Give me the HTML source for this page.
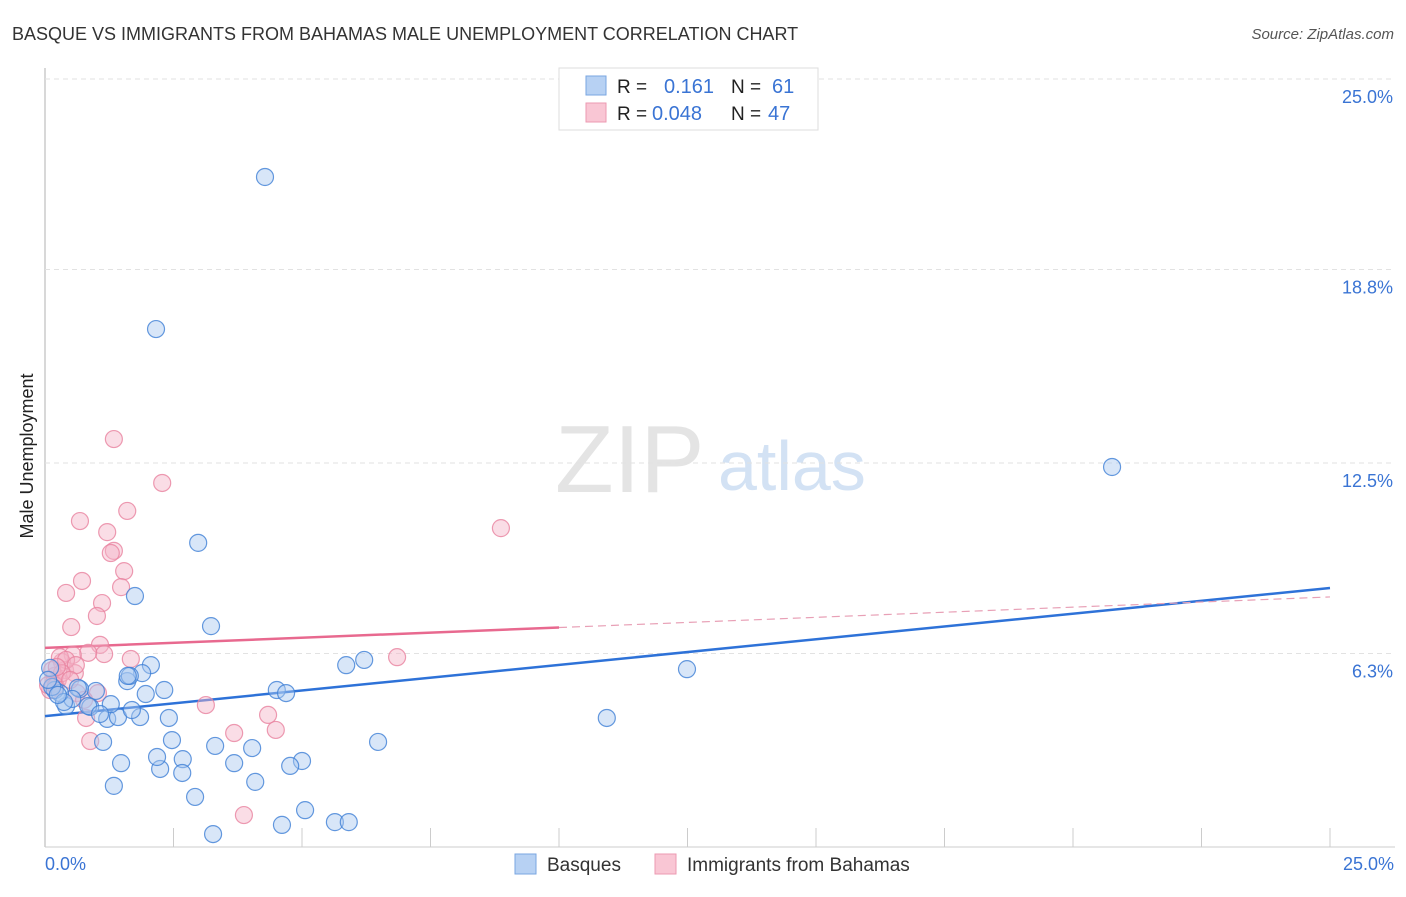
<!DOCTYPE html>
<html><head><meta charset="utf-8"><style>
body{margin:0;background:#fff;font-family:"Liberation Sans",sans-serif;}
svg text{font-family:"Liberation Sans",sans-serif;}
</style></head><body>
<svg id="chart" width="1406" height="892">
<text x="12" y="40" font-size="18" fill="#333">BASQUE VS IMMIGRANTS FROM BAHAMAS MALE UNEMPLOYMENT CORRELATION CHART</text>
<text x="1394" y="39" font-size="15" fill="#555" font-style="italic" text-anchor="end">Source: ZipAtlas.com</text>
<text x="0" y="0" font-size="18" fill="#222" text-anchor="middle" transform="translate(33,456) rotate(-90)">Male Unemployment</text>
<g>
<text x="555" y="492" font-size="96" fill="#e4e4e4" font-family="Liberation Serif, serif">ZIP</text>
<text x="718" y="490" font-size="70" fill="#d3e2f4">atlas</text>
</g>
<g id="grid"></g>
<g id="lines"></g>
<g id="pts"></g>
<g>
<rect x="559" y="68" width="259" height="62" fill="#fff" stroke="#ddd"/>
<rect x="586" y="76" width="20" height="19" fill="#b7d1f3" stroke="#7aa6e0"/>
<rect x="586" y="103" width="20" height="19" fill="#f9c6d4" stroke="#ec9ab2"/>
<text x="617" y="93" font-size="19" fill="#222">R =</text><text x="664" y="93" font-size="20" fill="#3a74d4">0.161</text>
<text x="731" y="93" font-size="19" fill="#222">N =</text><text x="772" y="93" font-size="20" fill="#3a74d4">61</text>
<text x="617" y="120" font-size="19" fill="#222">R =</text><text x="652" y="120" font-size="20" fill="#3a74d4">0.048</text>
<text x="731" y="120" font-size="19" fill="#222">N =</text><text x="768" y="120" font-size="20" fill="#3a74d4">47</text>
</g>
<g>
<rect x="515" y="854" width="21" height="20" fill="#b7d1f3" stroke="#7aa6e0"/>
<text x="547" y="871" font-size="19" fill="#333">Basques</text>
<rect x="655" y="854" width="21" height="20" fill="#f9c6d4" stroke="#ec9ab2"/>
<text x="687" y="871" font-size="19" fill="#333">Immigrants from Bahamas</text>
</g>
</svg>
<script>
const yTicks=[25.0,18.8,12.5,6.3];
const yTickLabels=["25.0%","18.8%","12.5%","6.3%"];
const xTickLabels=["0.0%","25.0%"];
const basqueX=[4.28,2.16,2.98,3.23,1.75,20.76,12.49,10.93,5.86,6.21,6.48,4.51,4.69,5.00,4.77,5.06,5.64,5.91,4.61,3.27,2.92,4.09,4.03,3.68,3.31,2.68,2.67,2.47,2.24,2.18,1.48,1.34,1.13,1.21,1.42,1.85,1.69,2.41,2.32,1.96,2.06,1.89,1.60,1.65,1.28,0.99,0.68,0.88,0.64,0.41,0.53,0.29,0.19,0.14,0.10,0.37,0.84,1.07,0.06,0.25,1.61];
const basqueY=[21.81,16.86,9.90,7.19,8.17,12.37,5.79,4.20,5.92,6.09,3.42,5.11,5.01,2.80,2.64,1.20,0.81,0.81,0.72,0.42,1.63,2.12,3.22,2.73,3.29,2.86,2.41,3.48,2.54,2.93,2.73,1.99,3.42,4.17,4.23,4.23,4.46,4.20,5.11,4.98,5.92,5.66,5.40,5.57,4.65,5.08,5.14,4.56,5.18,4.59,4.82,5.01,5.11,5.21,5.83,4.72,4.59,4.33,5.44,4.95,5.57];
const bahamasX=[1.34,2.28,0.68,1.60,1.21,1.34,1.28,1.54,0.72,0.41,1.48,1.11,1.01,0.51,1.07,1.67,1.15,0.84,8.87,6.85,3.13,4.34,4.49,3.68,3.87,0.88,0.80,0.54,0.33,0.39,0.58,0.25,0.19,0.10,0.16,0.62,1.03,0.29,0.14,0.06,0.41,0.60,0.21,0.76,0.33,0.23,0.49];
const bahamasY=[13.28,11.85,10.61,10.94,10.25,9.64,9.57,8.98,8.66,8.27,8.46,7.94,7.52,7.16,6.58,6.12,6.28,6.32,10.38,6.18,4.62,4.30,3.81,3.71,1.04,3.45,4.20,6.25,6.02,5.76,5.66,5.44,5.57,5.11,5.31,5.01,5.01,6.18,5.76,5.27,6.09,5.92,5.24,4.79,5.66,5.86,5.44];
const basqueTrend=[4.26,8.43];
const bahamasTrend=[6.48,8.14];
const bahamasSolidEnd=10.0;
const NS="http://www.w3.org/2000/svg";
const X0=45,X1=1330,Y0=847,Y25=79;
function sx(v){return X0+(X1-X0)*v/25;}
function sy(v){return Y0-(Y0-Y25)*v/25;}
function mk(t,a,p){const e=document.createElementNS(NS,t);for(const k in a)e.setAttribute(k,a[k]);p.appendChild(e);return e;}
const grid=document.getElementById('grid');
const ax=mk('line',{x1:X0,y1:68,x2:X0,y2:Y0,stroke:'#ccc','stroke-width':1.5},grid);


const bx=mk('line',{x1:X0,y1:Y0,x2:1395,y2:Y0,stroke:'#ccc','stroke-width':1},grid);


yTicks.forEach((v,i)=>{
 const g=mk('line',{x1:X0,y1:sy(v),x2:1395,y2:sy(v),stroke:'#e2e2e2','stroke-dasharray':'5,4'},grid);
 
 
 const t=mk('text',{x:1393,y:sy(v)+24,'font-size':18,fill:'#3a74d4','text-anchor':'end'},grid);
 t.textContent=yTickLabels[i];
 
 
});
for(let i=1;i<=10;i++){
 const v=2.5*i;
 const l=mk('line',{x1:sx(v),y1:828,x2:sx(v),y2:Y0,stroke:'#ccc'},grid);
 
 
}
const xl0=mk('text',{x:45,y:870,'font-size':18,fill:'#3a74d4'},grid);xl0.textContent=xTickLabels[0];


const xl1=mk('text',{x:1394,y:870,'font-size':18,fill:'#3a74d4','text-anchor':'end'},grid);xl1.textContent=xTickLabels[1];


const pts=document.getElementById('pts');
function dots(xs,ys,fill,stroke,name){xs.forEach((x,i)=>{
 const c=mk('circle',{cx:sx(x),cy:sy(ys[i]),r:8.5,fill:fill,'fill-opacity':0.45,stroke:stroke,'stroke-width':1.2,'stroke-opacity':0.8},pts);
 
 
});}
dots(bahamasX,bahamasY,'#f4b3c7','#e8829f','bahamas-point');
dots(basqueX,basqueY,'#a9c8f0','#3f7fd6','basque-point');
const lines=document.getElementById('lines');
const lb=mk('line',{x1:sx(0),y1:sy(basqueTrend[0]),x2:sx(25),y2:sy(basqueTrend[1]),stroke:'#2e72d8','stroke-width':2.5},lines);


function by(x){return bahamasTrend[0]+(bahamasTrend[1]-bahamasTrend[0])*x/25;}
const lp=mk('line',{x1:sx(0),y1:sy(by(0)),x2:sx(bahamasSolidEnd),y2:sy(by(bahamasSolidEnd)),stroke:'#e8698f','stroke-width':2.5},lines);


const lpd=mk('line',{x1:sx(bahamasSolidEnd),y1:sy(by(bahamasSolidEnd)),x2:sx(25),y2:sy(by(25)),stroke:'#e8a0b6','stroke-width':1.2,'stroke-dasharray':'8,5'},lines);


</script>
</body></html>
